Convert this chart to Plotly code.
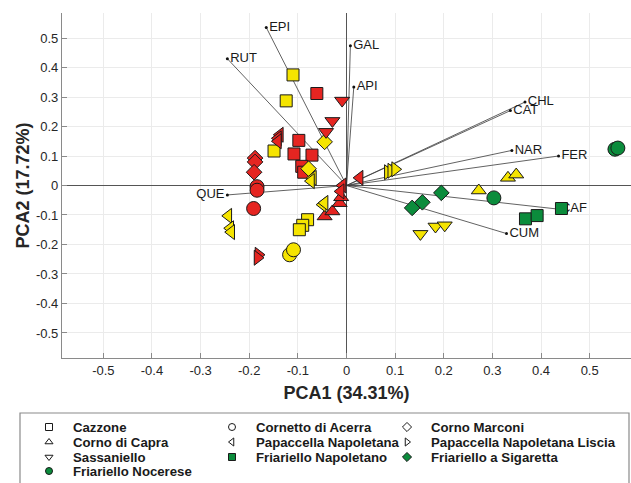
import plotly.graph_objects as go

# ---------------- data ----------------
cultivars = ["Cazzone", "Cornetto di Acerra", "Corno Marconi",
             "Corno di Capra", "Papaccella Napoletana", "Papaccella Napoletana Liscia",
             "Sassaniello", "Friariello Napoletano", "Friariello a Sigaretta",
             "Friariello Nocerese"]

# scores: x (PCA1), y (PCA2), colour class (R = red, Y = yellow, G = green)
cazzone_x = [-0.110, -0.124, -0.149, -0.080, -0.090, -0.097, -0.061, -0.098, -0.108, -0.071, -0.092, -0.088]
cazzone_y = [0.375, 0.287, 0.117, -0.116, -0.135, -0.150, 0.312, 0.153, 0.107, 0.103, 0.065, 0.045]
cazzone_c = ["Y", "Y", "Y", "Y", "Y", "Y", "R", "R", "R", "R", "R", "R"]

cornetto_x = [-0.184, -0.184, -0.191, -0.117, -0.109]
cornetto_y = [-0.004, -0.016, -0.078, -0.235, -0.218]
cornetto_c = ["R", "R", "R", "Y", "Y"]

marconi_x = [-0.188, -0.188, -0.190, -0.078, -0.045]
marconi_y = [0.093, 0.080, 0.045, 0.057, 0.148]
marconi_c = ["R", "R", "R", "Y", "Y"]

capra_x = [0.272, 0.332, 0.349, -0.045, -0.029, -0.014, -0.011]
capra_y = [-0.017, 0.026, 0.037, -0.105, -0.088, -0.060, -0.040]
capra_c = ["Y", "Y", "Y", "R", "R", "R", "R"]

papaccella_x = [-0.137, -0.141, -0.141, 0.027, -0.008, -0.012, -0.069, -0.073, -0.049, -0.045, -0.243, -0.239, -0.237]
papaccella_y = [0.172, 0.160, 0.150, 0.026, 0.000, -0.020, 0.026, 0.015, -0.065, -0.059, -0.103, -0.145, -0.158]
papaccella_c = ["R", "R", "R", "R", "R", "R", "Y", "Y", "Y", "Y", "Y", "Y", "Y"]

liscia_x = [0.085, 0.092, 0.100, -0.181, -0.183]
liscia_y = [0.045, 0.050, 0.055, -0.235, -0.245]
liscia_c = ["Y", "Y", "Y", "R", "R"]

sassaniello_x = [-0.009, -0.029, -0.042, 0.152, 0.183, 0.202]
sassaniello_y = [0.288, 0.219, 0.182, -0.164, -0.139, -0.135]
sassaniello_c = ["R", "R", "R", "Y", "Y", "Y"]

fr_napoletano_x = [0.368, 0.392, 0.442]
fr_napoletano_y = [-0.113, -0.102, -0.078]
fr_napoletano_c = ["G", "G", "G"]

fr_sigaretta_x = [0.195, 0.156, 0.135]
fr_sigaretta_y = [-0.025, -0.057, -0.076]
fr_sigaretta_c = ["G", "G", "G"]

fr_nocerese_x = [0.552, 0.558, 0.303]
fr_nocerese_y = [0.123, 0.127, -0.042]
fr_nocerese_c = ["G", "G", "G"]

# loadings
load_names = ["EPI", "RUT", "GAL", "API", "CHL", "CAT", "NAR", "FER", "QUE", "CAF", "CUM"]
load_x = [-0.165, -0.245, 0.008, 0.015, 0.367, 0.337, 0.340, 0.436, -0.245, 0.435, 0.329]
load_y = [0.536, 0.430, 0.474, 0.334, 0.283, 0.254, 0.119, 0.100, -0.032, -0.080, -0.163]

tick_vals = [-0.5, -0.4, -0.3, -0.2, -0.1, 0, 0.1, 0.2, 0.3, 0.4, 0.5]
tick_text = ["-0.5", "-0.4", "-0.3", "-0.2", "-0.1", "0", "0.1", "0.2", "0.3", "0.4", "0.5"]

# ---------------- styling / layout constants ----------------
W, H = 631, 483
FONT = "Liberation Sans, Arial, Helvetica, sans-serif"
COLORS = {"R": "#e52521", "Y": "#f5e400", "G": "#0b8c3c"}
PLOT_L, PLOT_R, PLOT_T, PLOT_B = 62, 631, 13, 358      # plot area in pixels
LEG_TOP_AREA = 405                                      # legend sub-area top (px)
LEG_COL_PX = [49, 232, 407]
LEG_ROW_PX = [427, 442, 457, 471]
LEG_TEXT_DX = 22
LEG_BOX = (20, 629, 413, 500)

series = [
    (cazzone_x, cazzone_y, cazzone_c, "square", 12),
    (cornetto_x, cornetto_y, cornetto_c, "circle", 14),
    (marconi_x, marconi_y, marconi_c, "diamond", 12),
    (capra_x, capra_y, capra_c, "triangle-up", 13),
    (papaccella_x, papaccella_y, papaccella_c, "triangle-left", 13),
    (liscia_x, liscia_y, liscia_c, "triangle-right", 13),
    (sassaniello_x, sassaniello_y, sassaniello_c, "triangle-down", 13),
    (fr_napoletano_x, fr_napoletano_y, fr_napoletano_c, "square", 12),
    (fr_sigaretta_x, fr_sigaretta_y, fr_sigaretta_c, "diamond", 12),
    (fr_nocerese_x, fr_nocerese_y, fr_nocerese_c, "circle", 14),
]

fig = go.Figure()

# loading vectors
for lx, ly in zip(load_x, load_y):
    fig.add_trace(go.Scatter(x=[0, lx], y=[0, ly], mode="lines",
                             line=dict(color="#3a3a3a", width=0.8),
                             showlegend=False, hoverinfo="skip"))
positions = ["middle left" if n == "QUE" else "middle right" for n in load_names]
fig.add_trace(go.Scatter(x=load_x, y=load_y, mode="markers+text", text=load_names,
                         textposition=positions,
                         textfont=dict(family=FONT, size=13, color="#1a1a1a"),
                         marker=dict(size=3, color="#111111"),
                         showlegend=False, hoverinfo="skip"))

# scores
for name, (xs, ys, cs, sym, sz) in zip(cultivars, series):
    fig.add_trace(go.Scatter(
        x=xs, y=ys, mode="markers", showlegend=False, name=name,
        marker=dict(symbol=sym, size=sz, color=[COLORS[c] for c in cs],
                    line=dict(color="#1a1a1a", width=1))))

# legend (drawn in its own pixel-scaled sub-area below the plot)
for i, (name, (xs, ys, cs, sym, sz)) in enumerate(zip(cultivars, series)):
    green = cs[0] == "G"
    px = LEG_COL_PX[i % 3]
    py = LEG_ROW_PX[i // 3]
    fig.add_trace(go.Scatter(
        x=[px], y=[py], xaxis="x2", yaxis="y2", mode="markers", showlegend=False,
        hoverinfo="skip",
        marker=dict(symbol=sym, size=7,
                    color=COLORS["G"] if green else "white",
                    line=dict(color="#1a1a1a", width=1))))
    fig.add_annotation(x=px + LEG_TEXT_DX, y=py, xref="x2", yref="y2",
                       text=f"<b>{name}</b>", showarrow=False,
                       xanchor="left", yanchor="middle",
                       font=dict(family=FONT, size=13.2, color="#1a1a1a"))

fig.add_shape(type="rect", xref="x2", yref="y2",
              x0=LEG_BOX[0], x1=LEG_BOX[1], y0=LEG_BOX[2], y1=LEG_BOX[3],
              line=dict(color="#8a8a8a", width=1.2), fillcolor="rgba(0,0,0,0)")

axis_common = dict(
    range=[-0.585, 0.585], tickvals=tick_vals, ticktext=tick_text,
    showgrid=True, gridcolor="#ebebeb", gridwidth=1,
    zeroline=True, zerolinecolor="#555555", zerolinewidth=1,
    showline=True, linecolor="#8a8a8a", linewidth=1.2, mirror=False,
    ticks="inside", ticklen=5, tickcolor="#8a8a8a",
    tickfont=dict(family=FONT, size=13, color="#262626"),
    fixedrange=True,
)

fig.update_layout(
    width=W, height=H,
    margin=dict(l=0, r=0, t=0, b=0, autoexpand=False),
    paper_bgcolor="white", plot_bgcolor="white",
    font=dict(family=FONT),
    showlegend=False,
    xaxis=dict(axis_common, domain=[PLOT_L / W, PLOT_R / W], anchor="y",
               title=dict(text="<b>PCA1 (34.31%)</b>",
                          font=dict(family=FONT, size=18, color="#262626"),
                          standoff=9)),
    yaxis=dict(axis_common, domain=[1 - PLOT_B / H, 1 - PLOT_T / H], anchor="x",
               title=dict(text="<b>PCA2 (17.72%)</b>",
                          font=dict(family=FONT, size=18, color="#262626"),
                          standoff=1)),
    xaxis2=dict(domain=[0, 1], range=[0, W], visible=False, fixedrange=True, anchor="y2"),
    yaxis2=dict(domain=[0, (H - LEG_TOP_AREA) / H], range=[H, LEG_TOP_AREA],
                visible=False, fixedrange=True, anchor="x2"),
)

fig.write_html("out.html")
